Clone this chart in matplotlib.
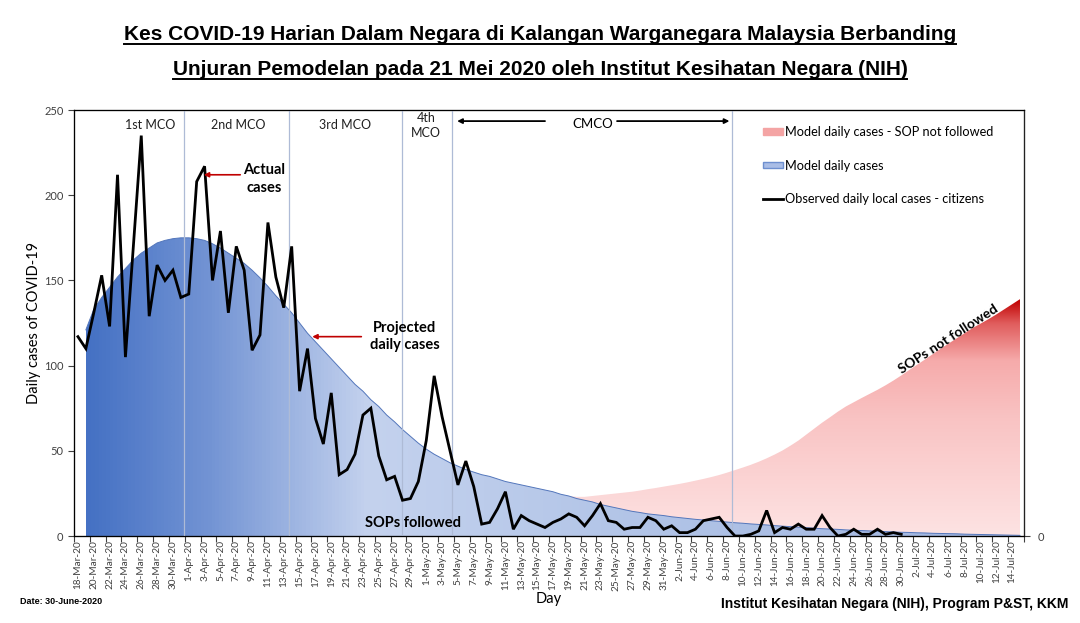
import numpy as np
import pandas as pd
import matplotlib
matplotlib.use("Agg")
import matplotlib.pyplot as plt
from matplotlib.colors import LinearSegmentedColormap
from matplotlib.patches import Polygon, Patch
from matplotlib.lines import Line2D

# ---------------------------------------------------------------------------
#  DATA
# ---------------------------------------------------------------------------
START_DATE = "2020-03-18"
N_DAYS = 120                      # 18-Mar-20 .. 15-Jul-20

# observed daily local cases - citizens, 18-Mar .. 30-Jun
observed = [117, 110, 131, 153, 123, 212, 105, 170, 235, 129,
            159, 150, 156, 140, 142, 208, 217, 150, 179, 131,
            170, 156, 109, 118, 184, 152, 134, 170, 85, 110,
            69, 54, 84, 36, 39, 48, 71, 75, 47, 33,
            35, 21, 22, 32, 56, 94, 70, 50, 30, 44,
            29, 7, 8, 16, 26, 4, 12, 9, 7, 5,
            8, 10, 13, 11, 6, 12, 19, 9, 8, 4,
            5, 5, 11, 9, 4, 6, 2, 2, 4, 9,
            10, 11, 5, 0, 0, 1, 3, 15, 2, 5,
            4, 7, 4, 4, 12, 5, 0, 1, 4, 1,
            1, 4, 1, 2, 1]

# model daily cases (SOPs followed), 19-Mar .. 15-Jul
model_start = 1
model = [121, 133, 140, 146, 152, 157, 162, 166, 169, 172,
         173.5, 174.5, 175, 175, 174.5, 173.5, 171.5, 169, 166, 163,
         160, 156, 151.5, 146.5, 141, 136, 131, 125, 119, 114,
         109, 104, 99, 94, 89, 85, 80, 76, 71, 67,
         62.5, 58.5, 54.5, 51, 48, 45.5, 43, 41, 39, 37.5,
         36, 35, 33.5, 32, 31, 30, 29, 28, 27, 26,
         24.5, 23.5, 22, 21, 20, 18.5, 17.5, 16.5, 15.5, 14.5,
         13.8, 13, 12.5, 12, 11.3, 10.8, 10.3, 9.8, 9.4, 9,
         8.6, 8.2, 7.8, 7.5, 7.1, 6.8, 6.5, 6.1, 5.8, 5.5,
         5.2, 4.9, 4.6, 4.3, 4.1, 3.9, 3.6, 3.4, 3.2, 3,
         2.8, 2.6, 2.4, 2.2, 2.1, 1.9, 1.8, 1.6, 1.5, 1.4,
         1.3, 1.1, 1, 0.9, 0.8, 0.7, 0.6, 0.5, 0.4]

# model daily cases - SOP not followed, 19-May .. 15-Jul
model_nosop_start = 62
model_nosop = [23.5, 23, 23, 23.5, 24, 24.5, 25, 25.5, 26, 26.7,
               27.5, 28.2, 29, 29.8, 30.6, 31.5, 32.5, 33.5, 34.6, 35.8,
               37.2, 38.7, 40.2, 41.8, 43.6, 45.6, 47.8, 50.2, 53, 56,
               59.5, 63, 66.5, 69.7, 73, 76, 78.5, 81, 83.4, 85.8,
               88.4, 91.2, 94.2, 97.4, 100.5, 103.6, 106.8, 110, 113, 116,
               119, 122, 124.6, 127.2, 130, 133, 136, 139]

# phase boundaries (day index) and labels
phase_lines = [13.4, 26.7, 40.9, 47.3, 82.6]
phase_labels = ["1st MCO", "2nd MCO", "3rd MCO", "4th\nMCO"]
phase_label_x = [9.1, 20.2, 33.7, 44.0]

dates = pd.date_range(START_DATE, periods=N_DAYS, freq="D")
date_labels = [f"{d.day}-{d.strftime('%b')}-{d.strftime('%y')}" for d in dates]

# ---------------------------------------------------------------------------
#  STYLE
# ---------------------------------------------------------------------------
FONT = ["Lato", "DejaVu Sans"]
ARIAL = ["Liberation Sans", "DejaVu Sans"]
plt.rcParams["font.family"] = FONT

blue_cmap = LinearSegmentedColormap.from_list(
    "blue", [(0.0, "#4571c4"), (0.13, "#7394d4"), (0.30, "#c4d2ee"),
             (0.55, "#b4c6e8"), (1.0, "#9fb4df")])
red_cmap = LinearSegmentedColormap.from_list(
    "red", [(0.0, "#fde3e3"), (0.5, "#f9c3c3"), (0.74, "#f6abab"),
            (0.9, "#e05c5c"), (1.0, "#c00000")])

fig = plt.figure(figsize=(10.8, 6.23), dpi=100)
ax = fig.add_axes([0.0685, 0.1396, 0.8796, 0.6838])

x_obs = np.arange(len(observed))
x_mod = np.arange(model_start, model_start + len(model))
x_red = np.arange(model_nosop_start, model_nosop_start + len(model_nosop))


def gradient_area(xs, ys, cmap, vertical, z):
    verts = [(xs[0], 0)] + list(zip(xs, ys)) + [(xs[-1], 0)]
    poly = Polygon(verts, closed=True, facecolor="none", edgecolor="none")
    ax.add_patch(poly)
    if vertical:
        grad = np.linspace(0, 1, 256).reshape(-1, 1)
    else:
        grad = np.linspace(0, 1, 256).reshape(1, -1)
    im = ax.imshow(grad, cmap=cmap, origin="lower", aspect="auto",
                   extent=[xs[0], xs[-1], 0, max(ys)], zorder=z,
                   interpolation="bilinear")
    im.set_clip_path(poly)


gradient_area(x_red, model_nosop, red_cmap, True, 1)
gradient_area(x_mod, model, blue_cmap, False, 2)
ax.plot(x_mod, model, color="#5376bb", lw=0.7, zorder=2.5)

for xv in phase_lines:
    ax.axvline(xv, color="#aebbd6", lw=0.9, zorder=3)

ax.plot(x_obs, observed, color="black", lw=2.0, zorder=5,
        solid_joinstyle="miter")

ax.set_xlim(-0.5, N_DAYS - 0.5)
ax.set_ylim(0, 250)

# axis ticks: marks between categories, labels on every second day
ax.set_xticks(np.arange(-0.5, N_DAYS, 2))
ax.set_xticklabels([])
ax.set_xticks(np.arange(0, N_DAYS - 1, 2), minor=True)
ax.set_xticklabels(date_labels[0:N_DAYS - 1:2], minor=True, rotation=90,
                   fontsize=7.2, color="#404040")
ax.tick_params(axis="x", which="major", length=4, width=0.8, color="#404040")
ax.tick_params(axis="x", which="minor", length=0, pad=3)
ax.set_yticks(np.arange(0, 251, 50))
ax.tick_params(axis="y", length=4, width=0.8, labelsize=8,
               labelcolor="#404040", color="#404040")
for s in ax.spines.values():
    s.set_color("#222222")
    s.set_linewidth(0.9)

ax2 = ax.twinx()
ax2.set_ylim(0, 250)
ax2.set_yticks([0])
ax2.tick_params(axis="y", length=4, width=0.8, labelsize=8,
                labelcolor="#404040", color="#404040", pad=6)
ax2.spines["right"].set_color("#222222")

ax.set_ylabel("Daily cases of COVID-19", fontsize=10.5, labelpad=2)
fig.text(0.508, 0.038, "Day", fontsize=10.5, ha="center", va="center")

# phase labels
for lab, xv in zip(phase_labels, phase_label_x):
    ax.text(xv, 241, lab, fontsize=9, ha="center", va="center",
            linespacing=1.3, color="#202020", zorder=6)
arrow_kw = dict(arrowstyle="-|>", color="black", lw=1.3, mutation_scale=7,
                shrinkA=0, shrinkB=0)
ax.annotate("", xy=(47.9, 243.5), xytext=(59.0, 243.5), arrowprops=arrow_kw,
            zorder=6)
ax.annotate("", xy=(82.3, 243.5), xytext=(68.1, 243.5), arrowprops=arrow_kw,
            zorder=6)
ax.text(65.0, 242, "CMCO", fontsize=9.5, ha="center", va="center", zorder=7)

# annotations
red_kw = dict(arrowstyle="-|>", color="#c00000", lw=1.2, mutation_scale=7,
              shrinkA=0, shrinkB=0)
ax.annotate("", xy=(15.9, 212), xytext=(20.5, 212), arrowprops=red_kw,
            zorder=6)
ax.text(23.5, 209.5, "Actual\ncases", fontsize=10.5, fontweight="bold",
        ha="center", va="center", linespacing=1.3, zorder=6)
ax.annotate("", xy=(29.6, 117), xytext=(35.8, 117), arrowprops=red_kw,
            zorder=6)
ax.text(41.3, 117, "Projected\ndaily cases", fontsize=10.5, fontweight="bold",
        ha="center", va="center", linespacing=1.3, zorder=6)
ax.text(42.3, 7.6, "SOPs followed", fontsize=10.5, fontweight="bold",
        ha="center", va="center", zorder=6)
ax.text(109.9, 115.6, "SOPs not followed", fontsize=10, fontweight="bold",
        ha="center", va="center", rotation=33, rotation_mode="anchor", zorder=6)

# legend
handles = [Patch(facecolor="#f4a4a4", edgecolor="#f4a4a4"),
           Patch(facecolor="#a9bde6", edgecolor="#6d8fcf"),
           Line2D([], [], color="black", lw=2.0)]
labels = ["Model daily cases - SOP not followed", "Model daily cases",
          "Observed daily local cases - citizens"]
ax2.legend(handles, labels, loc="upper left", bbox_to_anchor=(0.713, 0.99),
           frameon=False, fontsize=9.2, labelspacing=1.7, handlelength=1.6,
           handleheight=0.45, handletextpad=0.15)

# titles with underline
t1 = fig.text(0.5, 1 - 40 / 623, "Kes COVID-19 Harian Dalam Negara di Kalangan "
              "Warganegara Malaysia Berbanding", family=ARIAL, fontsize=15,
              fontweight="bold", ha="center", va="baseline")
t2 = fig.text(0.5, 1 - 75 / 623, "Unjuran Pemodelan pada 21 Mei 2020 oleh "
              "Institut Kesihatan Negara (NIH)", family=ARIAL, fontsize=15,
              fontweight="bold", ha="center", va="baseline")

fig.text(20 / 1080, 1 - 601 / 623, "Date: 30-June-2020", family=ARIAL,
         fontsize=6.5, fontweight="bold", ha="left", va="center")
fig.text(1068 / 1080, 1 - 604 / 623,
         "Institut Kesihatan Negara (NIH), Program P&ST, KKM", family=ARIAL,
         fontsize=10, fontweight="bold", ha="right", va="center")

fig.canvas.draw()
renderer = fig.canvas.get_renderer()
for t in (t1, t2):
    bb = t.get_window_extent(renderer)
    yline = t.get_position()[1] - 3.5 / 623
    fig.add_artist(Line2D([bb.x0 / 1080, bb.x1 / 1080], [yline, yline],
                          transform=fig.transFigure, color="black", lw=1.4))

fig.savefig("out.png", dpi=100)
